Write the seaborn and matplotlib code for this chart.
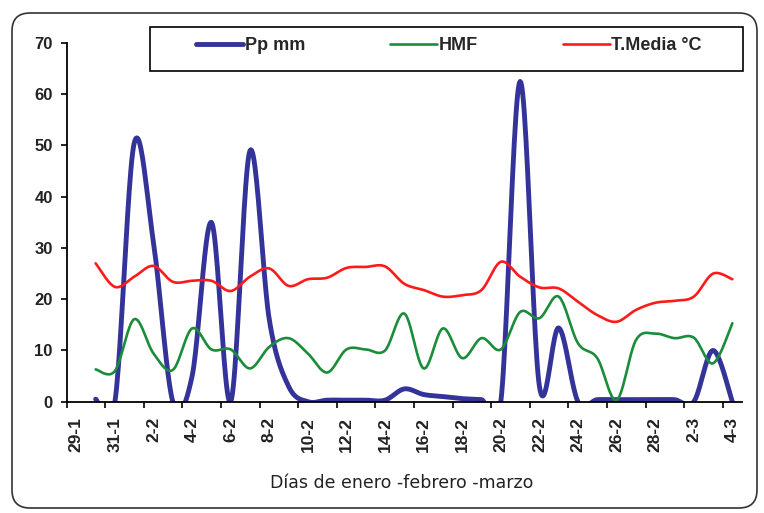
import numpy as np
import pandas as pd
import seaborn as sns
import matplotlib.pyplot as plt
from matplotlib.patches import FancyBboxPatch, Rectangle
from matplotlib.lines import Line2D

# days shown on the axis (29-1 .. 4-3)
dias = ["29-1", "30-1", "31-1",
        "1-2", "2-2", "3-2", "4-2", "5-2", "6-2", "7-2", "8-2", "9-2", "10-2",
        "11-2", "12-2", "13-2", "14-2", "15-2", "16-2", "17-2", "18-2", "19-2",
        "20-2", "21-2", "22-2", "23-2", "24-2", "25-2", "26-2", "27-2", "28-2",
        "1-3", "2-3", "3-3", "4-3"]

# series values, from 30-1 to 4-3
pp_mm = [0.5, 0.0, 50.5, 31.0, 0.0, 5.0, 35.0, 0.0, 49.0, 16.0, 3.0, 0.0,
         0.3, 0.3, 0.3, 0.3, 2.5, 1.4, 1.0, 0.6, 0.4, 0.0, 62.5, 3.0, 14.4,
         0.0, 0.4, 0.4, 0.4, 0.4, 0.4, 0.0, 10.0, 0.0]
hmf = [6.3, 6.0, 16.1, 9.4, 6.2, 14.3, 10.2, 10.2, 6.5, 10.7, 12.4, 9.4,
       5.7, 10.2, 10.2, 10.0, 17.2, 6.5, 14.3, 8.5, 12.4, 10.2, 17.5, 16.3,
       20.5, 11.4, 8.5, 0.3, 12.0, 13.3, 12.4, 12.5, 7.5, 15.3]
t_media = [27.0, 22.4, 24.4, 26.5, 23.4, 23.6, 23.6, 21.6, 24.4, 26.0, 22.6,
           23.9, 24.2, 26.1, 26.3, 26.4, 23.0, 21.8, 20.5, 20.8, 21.8, 27.3,
           24.4, 22.3, 22.1, 19.5, 16.9, 15.6, 17.9, 19.3, 19.7, 20.5, 25.0,
           23.9]

series = ["Pp mm", "HMF", "T.Media °C"]
colores = {"Pp mm": "#333399", "HMF": "#1a8c3a", "T.Media °C": "#ff1a1a"}
grosor = {"Pp mm": 3.5, "HMF": 1.9, "T.Media °C": 1.9}


def suavizar(xs, ys, n=24):
    # smoothed line like Excel (Bezier through the points)
    xs = np.asarray(xs, float)
    ys = np.asarray(ys, float)
    px = np.concatenate([[xs[0]], xs, [xs[-1]]])
    py = np.concatenate([[ys[0]], ys, [ys[-1]]])
    t = np.linspace(0, 1, n)[:, None]
    out_x, out_y = [], []
    for i in range(1, len(px) - 2):
        p0 = np.array([px[i], py[i]])
        p3 = np.array([px[i + 1], py[i + 1]])
        p1 = p0 + (p3 - np.array([px[i - 1], py[i - 1]])) / 6
        p2 = p3 - (np.array([px[i + 2], py[i + 2]]) - p0) / 6
        seg = ((1 - t) ** 3 * p0 + 3 * (1 - t) ** 2 * t * p1
               + 3 * (1 - t) * t ** 2 * p2 + t ** 3 * p3)
        out_x.extend(seg[:, 0])
        out_y.extend(seg[:, 1])
    return out_x, out_y


sns.set_style("ticks")
plt.rcParams["font.family"] = ["Liberation Sans", "DejaVu Sans"]

fig = plt.figure(figsize=(7.64, 5.13), dpi=100)
ax = fig.add_axes([66.7 / 764, 1 - 401.7 / 513, 675.3 / 764, 358.7 / 513])

x = list(range(1, len(dias)))
for nombre, vals in zip(series, [pp_mm, hmf, t_media]):
    sx, sy = suavizar(x, vals)
    df = pd.DataFrame({"x": sx, "y": sy})
    sns.lineplot(data=df, x="x", y="y", sort=False, estimator=None,
                 color=colores[nombre], lw=grosor[nombre], ax=ax)

ax.set_xlim(-0.5, len(dias) - 0.5)
ax.set_ylim(0, 70)
ax.set_yticks(range(0, 71, 10))
ax.set_xticks(range(0, len(dias), 2))
ax.set_xticklabels(dias[::2], rotation=90)
ax.set_xticks(np.arange(-0.5, len(dias) - 1, 2), minor=True)
ax.tick_params(axis="x", which="major", length=0, pad=11)
ax.tick_params(axis="x", which="minor", length=4, width=1.2, color="black")
ax.tick_params(axis="y", length=4, width=1.2, color="black", pad=6)
for lab in ax.get_xticklabels():
    lab.set_fontsize(12.5)
for lab in ax.get_yticklabels():
    lab.set_fontsize(12)
for lab in ax.get_xticklabels() + ax.get_yticklabels():
    lab.set_fontweight("bold")
    lab.set_color("#222222")
ax.set_xlabel("")
ax.set_ylabel("")
sns.despine(ax=ax)
for s in ["left", "bottom"]:
    ax.spines[s].set_linewidth(1.3)
    ax.spines[s].set_color("black")

fig.text(402 / 764, 1 - 483 / 513, "Días de enero -febrero -marzo",
         ha="center", va="center", fontsize=12.5, family="DejaVu Sans",
         color="#222222")

# chart border
fig.patches.append(FancyBboxPatch((0.12, 0.05), 7.45, 4.95,
                                  boxstyle="round,pad=0,rounding_size=0.18",
                                  transform=fig.dpi_scale_trans, fill=False,
                                  edgecolor="#333333", lw=1.2, zorder=0))

# legend box
fig.patches.append(Rectangle((150 / 764, 1 - 71 / 513), 593 / 764, 44 / 513,
                             transform=fig.transFigure, facecolor="white",
                             edgecolor="black", lw=1.2, zorder=3))
handles = [Line2D([], [], color=colores[n], lw=grosor[n]) for n in series]
fig.legend(handles, series, loc="center", ncol=3, frameon=False,
           bbox_to_anchor=(449 / 764, 1 - 46 / 513),
           handlelength=2.6, handletextpad=0.1, columnspacing=4.7,
           prop={"family": "Liberation Sans", "weight": "bold", "size": 13})

plt.savefig("out.png", dpi=100)
